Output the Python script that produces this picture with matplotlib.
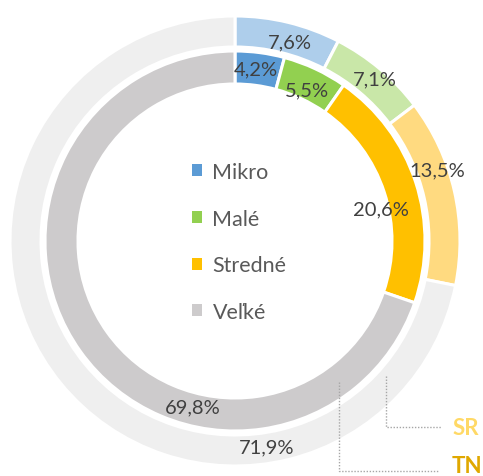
import matplotlib
matplotlib.use("Agg")
import matplotlib.pyplot as plt
from matplotlib.patches import Patch

plt.rcParams['font.family'] = ['Lato', 'DejaVu Sans']

categories = ["Mikro", "Malé", "Stredné", "Veľké"]
sr_values = [7.6, 7.1, 13.5, 71.9]   # outer ring (SR)
tn_values = [4.2, 5.5, 20.6, 69.8]   # inner ring (TN)
sr_labels = ["7,6%", "7,1%", "13,5%", "71,9%"]
tn_labels = ["4,2%", "5,5%", "20,6%", "69,8%"]
ring_names = ["SR", "TN"]

dark_colors = ["#5B9BD5", "#92D050", "#FFC000", "#CDCBCC"]
light_colors = ["#AECEEB", "#C9E7A8", "#FFDA80", "#EFEFEF"]

W, H = 483, 477
fig = plt.figure(figsize=(W / 100, H / 100), dpi=100)
cx, cy, R = 235, 242, 225
ax = fig.add_axes([(cx - R) / W, (H - cy - R) / H, 2 * R / W, 2 * R / H])
ax.set_xlim(-1, 1)
ax.set_ylim(-1, 1)
ax.set_aspect('equal')
ax.axis('off')

def px(x, y):
    return (x - cx) / R, (cy - y) / R

r_out, w_out = 1.0, 31 / R
r_in, w_in = 190 / R, 33 / R

ax.pie(sr_values, radius=r_out, colors=light_colors, startangle=90, counterclock=False,
       wedgeprops=dict(width=w_out, edgecolor='white', linewidth=2.2))
ax.pie(tn_values, radius=r_in, colors=dark_colors, startangle=90, counterclock=False,
       wedgeprops=dict(width=w_in, edgecolor='white', linewidth=2.2))
ax.set_xlim(-1, 1)
ax.set_ylim(-1, 1)

# label positions (pixels, as placed in the reference)
sr_pos = [(290, 43), (375, 80), (437, 171), (267, 448)]
tn_pos = [(256, 70), (307, 91), (381, 210), (193, 408)]
lab_fs = 14.5
for lab, (x, y) in zip(sr_labels, sr_pos):
    ax.text(*px(x, y), lab, ha='center', va='center', fontsize=lab_fs, color='#404040')
for lab, (x, y) in zip(tn_labels, tn_pos):
    ax.text(*px(x, y), lab, ha='center', va='center', fontsize=lab_fs, color='#404040')

# legend in the centre
handles = [Patch(facecolor=c, edgecolor='none') for c in dark_colors]
lx, ly = px(239, 243)
ax.legend(handles, categories, loc='center', bbox_to_anchor=(lx, ly),
          bbox_transform=ax.transData, frameon=False, fontsize=15.5, labelcolor='#595959',
          handlelength=0.47, handleheight=0.47, handletextpad=0.5, labelspacing=1.24)

# leader lines to ring names
line_kw = dict(color='#A6A6A6', linewidth=1.0, linestyle=(0, (1, 1.2)))
sr_path = [px(386, 377), px(386, 428), px(441, 428)]
tn_path = [px(339, 383), px(339, 472), px(438, 472)]
ax.plot([p[0] for p in sr_path], [p[1] for p in sr_path], clip_on=False, **line_kw)
ax.plot([p[0] for p in tn_path], [p[1] for p in tn_path], clip_on=False, **line_kw)
ax.text(*px(453, 429), ring_names[0], ha='left', va='center', fontsize=16, fontweight='bold',
        color='#FFD966', clip_on=False)
ax.text(*px(452, 467), ring_names[1], ha='left', va='center', fontsize=16, fontweight='bold',
        color='#E0A800', clip_on=False)

fig.savefig("out.png", dpi=100)
